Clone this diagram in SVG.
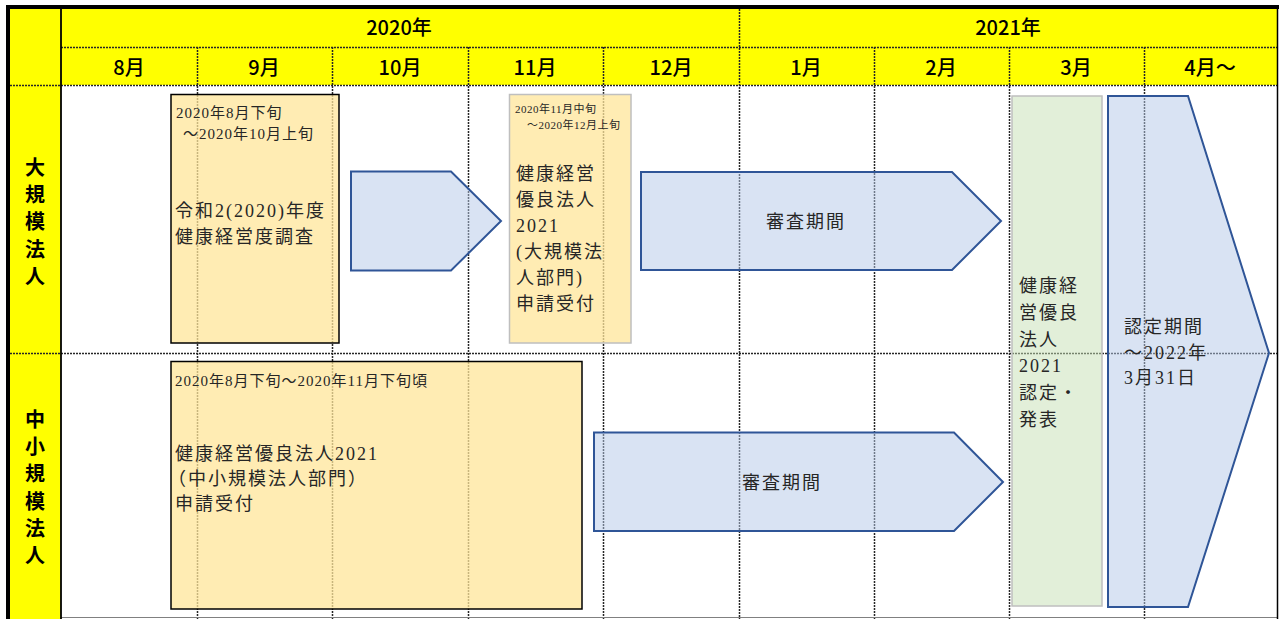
<svg xmlns="http://www.w3.org/2000/svg" width="1279" height="619" viewBox="0 0 1279 619">
<style>
.hd{font-family:"Noto Sans CJK JP","Liberation Sans",sans-serif;font-size:20px;font-weight:500;fill:#000;text-anchor:middle}
.side{font-family:"Noto Sans CJK JP","Liberation Sans",sans-serif;font-size:20px;font-weight:bold;fill:#000;text-anchor:middle}
.grid{stroke:#262626;stroke-width:1.5;stroke-dasharray:2 1;fill:none}
.t{font-family:"Liberation Serif","Noto Sans CJK JP",serif;font-size:18px;letter-spacing:2px;fill:#262626}
.s{font-family:"Liberation Serif","Noto Sans CJK JP",serif;font-size:15px;letter-spacing:1px;fill:#262626}
.xs{font-family:"Liberation Serif","Noto Sans CJK JP",serif;font-size:11px;letter-spacing:0.5px;fill:#262626}
.box{fill:#FFE699;fill-opacity:0.75}
.arrow{fill:#B4C7E7;fill-opacity:0.5;stroke:#2F5597;stroke-width:2;stroke-linejoin:miter}
</style>
<rect x="0" y="0" width="1279" height="619" fill="#fff"/>
<g id="header">
<rect x="10" y="9" width="1267" height="76" fill="#FFFF00"/>
<rect x="10" y="85" width="51" height="534" fill="#FFFF00"/>
<text class="hd" x="399" y="35">2020年</text>
<text class="hd" x="1008" y="35">2021年</text>
<text class="hd" x="129" y="75">8月</text>
<text class="hd" x="264" y="75">9月</text>
<text class="hd" x="400" y="75">10月</text>
<text class="hd" x="535" y="75">11月</text>
<text class="hd" x="671" y="75">12月</text>
<text class="hd" x="806" y="75">1月</text>
<text class="hd" x="941" y="75">2月</text>
<text class="hd" x="1076" y="75">3月</text>
<text class="hd" x="1210" y="75">4月～</text>
</g>
<g id="row-labels">
<text class="side" x="35" y="175">大</text>
<text class="side" x="35" y="202">規</text>
<text class="side" x="35" y="229">模</text>
<text class="side" x="35" y="257">法</text>
<text class="side" x="35" y="284">人</text>
<text class="side" x="35" y="427">中</text>
<text class="side" x="35" y="454">小</text>
<text class="side" x="35" y="481">規</text>
<text class="side" x="35" y="509">模</text>
<text class="side" x="35" y="536">法</text>
<text class="side" x="35" y="563">人</text>
</g>
<g id="gridlines">
<path class="grid" d="M61 47.5H1277M10 85.5H1277M10 353.5H1277"/>
<path class="grid" d="M197.5 47V619M332.5 47V619M468.5 47V619M603.5 47V619M739.5 9V619M874.5 47V619M1009.5 47V619M1144.5 47V619"/>
<line x1="61" y1="617.5" x2="1277" y2="617.5" stroke="#808080" stroke-width="1.2"/>
<line x1="61" y1="9" x2="61" y2="619" stroke="#000" stroke-width="1.8"/>
<line x1="6" y1="7" x2="1279" y2="7" stroke="#000" stroke-width="4"/>
<line x1="8" y1="5" x2="8" y2="619" stroke="#000" stroke-width="4"/>
<line x1="1277.5" y1="5" x2="1277.5" y2="619" stroke="#000" stroke-width="1.5"/>
</g>
<g id="survey-large">
<rect class="box" x="171" y="94.5" width="168" height="248.5" stroke="#000" stroke-width="1.5"/>
<text class="s" x="176" y="118">2020年8月下旬</text>
<text class="s" x="183" y="139">～2020年10月上旬</text>
<text class="t" x="175" y="217">令和2(2020)年度</text>
<text class="t" x="175" y="243">健康経営度調査</text>
</g>
<g id="arrow-large-1">
<path class="arrow" d="M351 171.5H451L501 221L451 270.5H351Z"/>
</g>
<g id="apply-large">
<rect class="box" x="509.5" y="94.5" width="121.5" height="248.5" stroke="#BFBFBF" stroke-width="1.5"/>
<text class="xs" x="515" y="113">2020年11月中旬</text>
<text class="xs" x="527" y="129">～2020年12月上旬</text>
<text class="t" x="516" y="180">健康経営</text>
<text class="t" x="516" y="206">優良法人</text>
<text class="t" x="516" y="232">2021</text>
<text class="t" x="516" y="258">(大規模法</text>
<text class="t" x="516" y="284">人部門)</text>
<text class="t" x="516" y="310">申請受付</text>
</g>
<g id="review-large">
<path class="arrow" d="M641 172H952L1001 221L952 270H641Z"/>
<text class="t" x="806" y="228" text-anchor="middle">審査期間</text>
</g>
<g id="apply-small">
<rect class="box" x="171" y="361.5" width="411" height="247.5" stroke="#000" stroke-width="1.5"/>
<text class="s" x="175" y="386">2020年8月下旬～2020年11月下旬頃</text>
<text class="t" x="175" y="460">健康経営優良法人2021</text>
<text class="t" x="168" y="485">（中小規模法人部門）</text>
<text class="t" x="175" y="510">申請受付</text>
</g>
<g id="review-small">
<path class="arrow" d="M594 432.5H954L1003 482L954 531H594Z"/>
<text class="t" x="782" y="489" text-anchor="middle">審査期間</text>
</g>
<g id="certify">
<rect x="1012" y="96" width="90" height="510" fill="#C5E0B4" fill-opacity="0.5" stroke="#BFBFBF" stroke-width="1.5"/>
<text class="t" x="1019" y="292">健康経</text>
<text class="t" x="1019" y="319">営優良</text>
<text class="t" x="1019" y="346">法人</text>
<text class="t" x="1019" y="372">2021</text>
<text class="t" x="1019" y="399">認定・</text>
<text class="t" x="1019" y="426">発表</text>
</g>
<g id="period">
<path class="arrow" d="M1108 96H1188L1269 353L1188 607H1108Z"/>
<text class="t" x="1124" y="333">認定期間</text>
<text class="t" x="1124" y="359">～2022年</text>
<text class="t" x="1124" y="384">3月31日</text>
</g>
</svg>
